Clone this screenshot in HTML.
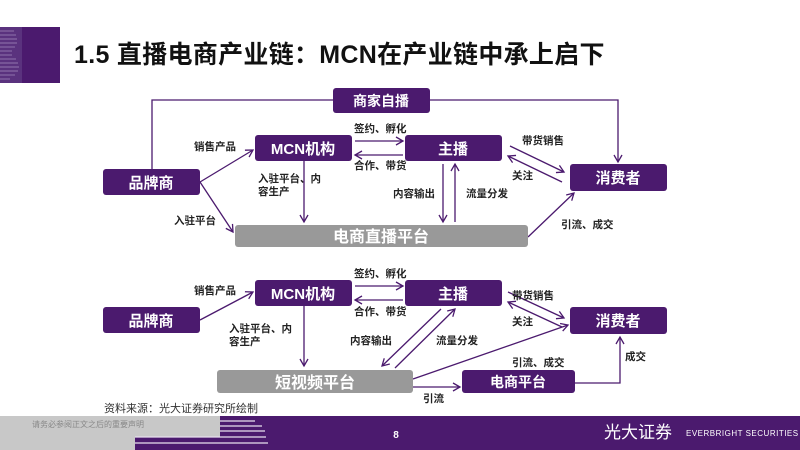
<!DOCTYPE html>
<html><head><meta charset="utf-8"><style>
html,body{margin:0;padding:0;width:800px;height:450px;overflow:hidden;background:#fff}
svg text{font-family:"Liberation Sans","Noto Sans CJK SC",sans-serif}
</style></head><body>
<svg width="800" height="450" viewBox="0 0 800 450" xmlns="http://www.w3.org/2000/svg">
<defs>
<marker id="a" markerWidth="10" markerHeight="10" refX="8" refY="5" orient="auto" markerUnits="userSpaceOnUse">
<path d="M1,1 L8,5 L1,9" fill="none" stroke="#4b1a6e" stroke-width="1.3"/></marker>
</defs>
<!-- logo -->
<rect x="0" y="27" width="60" height="56" fill="#4b1a6e"/>
<rect x="0" y="27" width="22" height="56" fill="#6a4a8e" opacity="0.5"/>
<g stroke="#9a80b5" stroke-width="1.2" opacity="0.7">
<line x1="0" y1="31" x2="14" y2="31"/><line x1="0" y1="35" x2="16" y2="35"/><line x1="0" y1="39" x2="17" y2="39"/><line x1="0" y1="43" x2="17" y2="43"/><line x1="0" y1="47" x2="15" y2="47"/><line x1="0" y1="51" x2="12" y2="51"/><line x1="0" y1="55" x2="12" y2="55"/><line x1="0" y1="59" x2="16" y2="59"/><line x1="0" y1="63" x2="18" y2="63"/><line x1="0" y1="67" x2="19" y2="67"/><line x1="0" y1="71" x2="18" y2="71"/><line x1="0" y1="75" x2="15" y2="75"/><line x1="0" y1="79" x2="10" y2="79"/>
</g>
<text x="74" y="63" font-size="25" font-weight="bold" fill="#111" letter-spacing="0.3">1.5 直播电商产业链：MCN在产业链中承上启下</text>

<g fill="none" stroke="#4b1a6e" stroke-width="1.3">
<polyline points="152,169 152,100 333,100"/>
<polyline points="430,100 618,100 618,162" marker-end="url(#a)"/>
<line x1="200" y1="182" x2="253" y2="150" marker-end="url(#a)"/>
<line x1="200" y1="182" x2="233" y2="232" marker-end="url(#a)"/>
<line x1="304" y1="161" x2="304" y2="222" marker-end="url(#a)"/>
<line x1="355" y1="141" x2="403" y2="141" marker-end="url(#a)"/>
<line x1="403" y1="155" x2="355" y2="155" marker-end="url(#a)"/>
<line x1="443" y1="164" x2="443" y2="222" marker-end="url(#a)"/>
<line x1="455" y1="222" x2="455" y2="164" marker-end="url(#a)"/>
<line x1="510" y1="146" x2="564" y2="172" marker-end="url(#a)"/>
<line x1="562" y1="182" x2="508" y2="156" marker-end="url(#a)"/>
<line x1="528" y1="237" x2="574" y2="193" marker-end="url(#a)"/>
<line x1="200" y1="320" x2="253" y2="292" marker-end="url(#a)"/>
<line x1="304" y1="306" x2="304" y2="366" marker-end="url(#a)"/>
<line x1="355" y1="286" x2="403" y2="286" marker-end="url(#a)"/>
<line x1="403" y1="300" x2="355" y2="300" marker-end="url(#a)"/>
<line x1="441" y1="309" x2="382" y2="366" marker-end="url(#a)"/>
<line x1="395" y1="368" x2="455" y2="309" marker-end="url(#a)"/>
<line x1="508" y1="292" x2="564" y2="318" marker-end="url(#a)"/>
<line x1="562" y1="327" x2="508" y2="302" marker-end="url(#a)"/>
<line x1="413" y1="379" x2="568" y2="325" marker-end="url(#a)"/>
<line x1="413" y1="387" x2="460" y2="387" marker-end="url(#a)"/>
<polyline points="575,383 620,383 620,337" marker-end="url(#a)"/>
</g>

<g fill="#4b1a6e">
<rect x="333" y="88" width="97" height="25" rx="3"/>
<rect x="255" y="135" width="97" height="26" rx="3"/>
<rect x="405" y="135" width="97" height="26" rx="3"/>
<rect x="103" y="169" width="97" height="26" rx="3"/>
<rect x="570" y="164" width="97" height="27" rx="3"/>
<rect x="255" y="280" width="97" height="26" rx="3"/>
<rect x="405" y="280" width="97" height="26" rx="3"/>
<rect x="103" y="307" width="97" height="26" rx="3"/>
<rect x="570" y="307" width="97" height="27" rx="3"/>
<rect x="462" y="370" width="113" height="23" rx="3"/>
</g>
<rect x="235" y="225" width="293" height="22" rx="3" fill="#999"/>
<rect x="217" y="370" width="196" height="23" rx="3" fill="#999"/>

<g fill="#fff" font-weight="bold" text-anchor="middle">
<text x="381" y="106" font-size="14">商家自播</text>
<text x="303" y="154" font-size="15">MCN机构</text>
<text x="453" y="154" font-size="15">主播</text>
<text x="151" y="188" font-size="15">品牌商</text>
<text x="618" y="183" font-size="15">消费者</text>
<text x="381" y="242" font-size="16">电商直播平台</text>
<text x="303" y="299" font-size="15">MCN机构</text>
<text x="453" y="299" font-size="15">主播</text>
<text x="151" y="326" font-size="15">品牌商</text>
<text x="618" y="326" font-size="15">消费者</text>
<text x="315" y="388" font-size="16">短视频平台</text>
<text x="518" y="387" font-size="14">电商平台</text>
</g>

<g fill="#222" font-size="10.5" font-weight="bold">
<text x="194" y="150">销售产品</text>
<text x="174" y="224">入驻平台</text>
<text x="258" y="182">入驻平台、内</text>
<text x="258" y="195">容生产</text>
<text x="354" y="132">签约、孵化</text>
<text x="354" y="169">合作、带货</text>
<text x="393" y="197">内容输出</text>
<text x="466" y="197">流量分发</text>
<text x="522" y="144">带货销售</text>
<text x="512" y="179">关注</text>
<text x="561" y="228">引流、成交</text>
<text x="194" y="294">销售产品</text>
<text x="229" y="332">入驻平台、内</text>
<text x="229" y="345">容生产</text>
<text x="354" y="277">签约、孵化</text>
<text x="354" y="315">合作、带货</text>
<text x="350" y="344">内容输出</text>
<text x="436" y="344">流量分发</text>
<text x="512" y="299">带货销售</text>
<text x="512" y="325">关注</text>
<text x="512" y="366">引流、成交</text>
<text x="625" y="360">成交</text>
<text x="423" y="402">引流</text>
</g>
<text x="104" y="412" font-size="11" fill="#333" font-family="'Noto Serif CJK SC',serif">资料来源：光大证券研究所绘制</text>

<rect x="0" y="416" width="800" height="34" fill="#c8c8c8"/>
<rect x="220" y="416" width="580" height="34" fill="#4b1a6e"/>
<rect x="135" y="437" width="90" height="13" fill="#4b1a6e"/>
<g stroke="#e8e0ee" stroke-width="1.2">
<line x1="220" y1="421" x2="255" y2="421"/>
<line x1="220" y1="426" x2="262" y2="426"/>
<line x1="220" y1="431" x2="265" y2="431"/>
<line x1="135" y1="437" x2="266" y2="437"/>
<line x1="135" y1="443" x2="268" y2="443"/>
</g>
<text x="32" y="427" font-size="8" fill="#888">请务必参阅正文之后的重要声明</text>
<text x="396" y="438" font-size="10" font-weight="bold" fill="#fff" text-anchor="middle">8</text>
<text x="604" y="438" font-size="17" fill="#fff" font-family="'Noto Serif CJK SC',serif">光大证券</text>
<text x="686" y="436" font-size="8" fill="#fff" letter-spacing="0.5">EVERBRIGHT SECURITIES</text>
</svg>
</body></html>
